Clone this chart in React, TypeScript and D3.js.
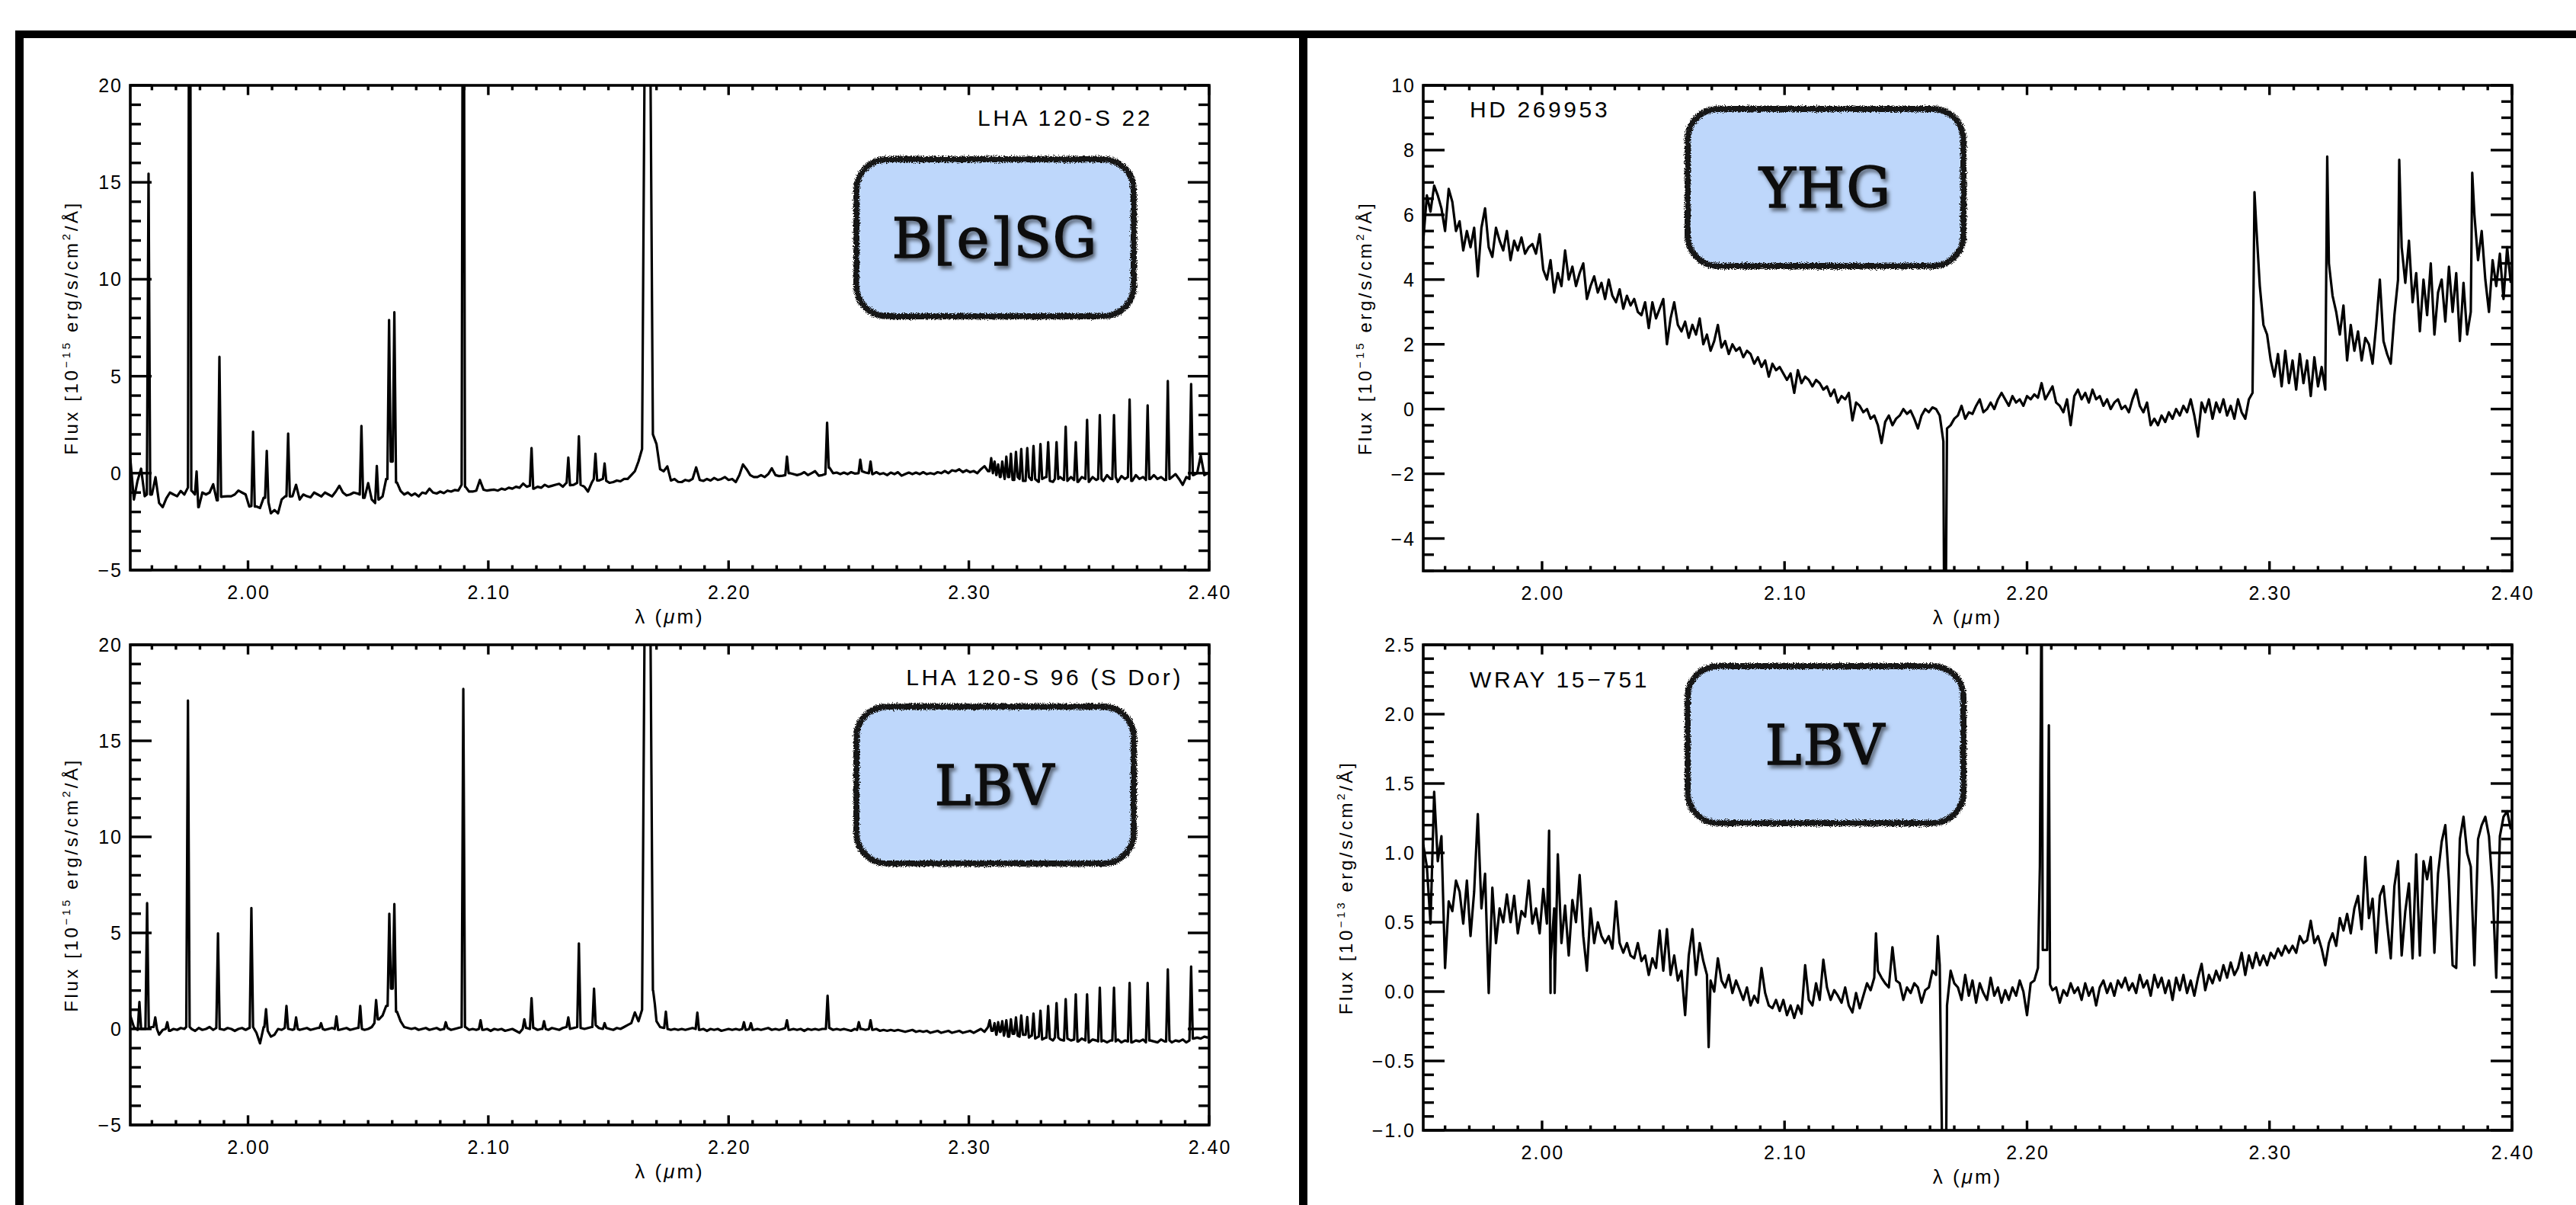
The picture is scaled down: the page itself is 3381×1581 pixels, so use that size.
import React from 'react'
import * as d3 from 'd3'

const FONT = "'Liberation Sans', Arial, Helvetica, sans-serif"
const SERIF = "'DejaVu Serif', 'Liberation Serif', serif"

// wavelength grid of the sampled spectra (micron)
const gridStart = 1.951
const gridStep = 0.0015

// LHA 120-S 22 : flux samples on the grid
const s22Flux = [
  0.76, -1.36, -0.4, 0.23, -1.19, -1.1, -1.1, -0.21, -1.54, -1.75,
  -1.3, -1.0, -1.1, -1.19, -0.92, -1.1, -0.74, -0.9, -1.1, -1.75,
  -1.0, -1.1, -1.0, -0.57, -1.4, -1.22, -1.2, -1.19, -1.19, -1.1,
  -0.9, -1.0, -1.1, -1.72, -1.7, -1.72, -1.8, -1.27, -1.5, -2.07,
  -1.9, -2.07, -1.36, -1.19, -1.2, -1.19, -0.6, -1.36, -1.1, -1.19,
  -1.25, -1.0, -1.1, -1.2, -1.0, -1.1, -1.2, -0.95, -0.65, -1.0,
  -1.15, -1.1, -1.0, -1.05, -1.1, -1.27, -0.51, -1.36, -1.54, -1.36,
  -1.2, -0.3, 0.6, 0.6, -0.48, -0.92, -1.1, -1.0, -1.15, -1.05,
  -1.2, -1.0, -1.05, -0.8, -1.0, -1.05, -0.95, -1.03, -0.9, -0.95,
  -0.87, -0.9, -0.6, -0.7, -0.95, -0.95, -0.9, -0.35, -0.85, -0.9,
  -0.87, -0.85, -0.9, -0.8, -0.85, -0.75, -0.8, -0.7, -0.75, -0.54,
  -0.7, -0.65, -0.8, -0.7, -0.75, -0.6, -0.7, -0.65, -0.6, -0.55,
  -0.7, -0.5, -0.62, -0.6, -0.5, -0.6, -0.7, -0.95, -0.5, -0.3,
  -0.38, -0.3, -0.4, -0.5, -0.46, -0.38, -0.42, -0.3, -0.3, -0.1,
  0.1, 0.6, 1.25, 30, 30, 2.0, 1.5, 0.2, 0.1, 0.35,
  -0.38, -0.3, -0.45, -0.46, -0.35, -0.4, -0.3, 0.3, -0.35, -0.4,
  -0.3, -0.38, -0.25, -0.35, -0.3, -0.2, -0.35, -0.3, -0.46, -0.1,
  0.45, 0.2, -0.1, -0.2, -0.2, -0.1, -0.2, -0.05, 0.25, -0.1,
  -0.15, -0.13, -0.1, 0.0, -0.05, -0.1, -0.05, 0.05, -0.1, 0.0,
  0.1, -0.13, -0.1, -0.05, 0.28, 0.0, 0.03, -0.05, 0.03, -0.05,
  0.05, -0.02, 0.0, 0.1, 0.03, 0.0, -0.05, 0.05, -0.05, 0.0,
  -0.1, 0.03, -0.05, 0.05, -0.13, -0.05, 0.03, -0.05, 0.03, -0.05,
  0.05, -0.05, 0.0, -0.05, 0.05, 0.0, 0.11, 0.0, 0.15, 0.1,
  0.2, 0.05, 0.15, 0.05, 0.11, 0.0, 0.2, 0.36, 0.1, 0.0,
  -0.1, -0.2, -0.1, -0.3, -0.2, -0.35, -0.2, -0.3, -0.4, -0.2,
  -0.35, -0.3, -0.45, -0.3, -0.2, -0.4, -0.45, -0.3, -0.2, -0.35,
  -0.4, -0.2, -0.35, -0.45, -0.2, -0.3, -0.45, -0.2, -0.35, -0.3,
  -0.4, -0.1, -0.3, -0.2, -0.45, -0.15, -0.3, -0.2, -0.4, -0.1,
  -0.3, -0.2, -0.35, -0.3, -0.1, -0.3, -0.2, -0.35, -0.3, -0.2,
  -0.05, -0.3, -0.6, -0.2, -0.3, -0.1, 0.0, 0.9, -0.1, 0.0,
]
// emission lines [wavelength, peak]
const s22Lines = [
  [1.9586, 15.45], [1.9757, 40], [1.9786, 0.09], [1.9881, 6.0], [2.0021, 2.14],
  [2.0078, 1.15], [2.0167, 2.04], [2.0472, 2.44], [2.0536, 0.37], [2.0587, 7.9],
  [2.0609, 8.3], [2.0896, 40], [2.118, 1.3], [2.1333, 0.8], [2.1377, 1.9],
  [2.1446, 1.0], [2.1484, 0.5], [2.2243, 0.85], [2.241, 2.6], [2.2548, 0.7],
  [2.2591, 0.6],
  [2.3093, 0.77], [2.3107, 0.6], [2.3122, 0.45], [2.3139, 0.6], [2.3156, 0.85],
  [2.3175, 1.0], [2.3196, 1.1], [2.3218, 1.25], [2.3243, 1.3], [2.3269, 1.4],
  [2.3298, 1.5], [2.333, 1.6], [2.3365, 1.6], [2.3403, 2.4], [2.3445, 1.6],
  [2.3492, 2.75], [2.3545, 3.0], [2.3604, 3.0], [2.3669, 3.8], [2.3744, 3.5],
  [2.3828, 4.75], [2.3925, 4.6],
]

// LHA 120-S 96 (S Dor)
const sdorFlux = [
  0.7, 0.1, -0.05, 0.0, 0.0, 0.05, 0.1, 0.0, -0.3, -0.05,
  0.0, -0.1, 0.0, -0.05, 0.05, 0.0, 0.1, 0.0, -0.1, 0.05,
  -0.05, 0.0, 0.1, -0.05, 0.05, 0.0, -0.05, 0.05, 0.0, -0.1,
  0.0, 0.05, -0.05, 0.05, 0.1, -0.2, -0.75, 0.1, -0.1, -0.4,
  -0.3, 0.0, -0.05, 0.05, 0.0, -0.05, 0.0, -0.05, 0.0, 0.05,
  -0.05, 0.0, 0.05, 0.0, -0.05, 0.0, 0.05, 0.0, -0.05, 0.0,
  0.05, -0.05, 0.0, 0.05, 0.0, -0.05, 0.0, 0.1, 0.3, 0.5,
  0.7, 1.2, 2.1, 2.1, 0.9, 0.4, 0.1, 0.05, 0.0, 0.05,
  -0.05, 0.0, 0.05, -0.05, 0.0, 0.05, -0.05, 0.0, 0.05, -0.05,
  0.0, 0.05, 0.1, 0.1, -0.05, 0.0, -0.05, 0.0, -0.05, 0.0,
  -0.1, 0.0, -0.05, 0.0, -0.1, -0.05, 0.0, -0.1, -0.2, 0.0,
  0.05, 0.0, 0.05, -0.05, 0.0, 0.0, -0.05, 0.05, 0.0, -0.05,
  0.05, 0.1, 0.0, 0.05, 0.1, 0.05, 0.0, 0.05, 0.1, 0.2,
  0.05, 0.0, 0.05, 0.0, -0.05, 0.05, 0.0, 0.1, 0.2, 0.3,
  0.86, 0.4, 1.0, 30, 30, 2.0, 0.4, 0.1, 0.05, 0.0,
  -0.05, 0.0, -0.05, 0.0, -0.05, 0.0, 0.05, 0.0, -0.05, 0.0,
  -0.1, 0.0, -0.05, 0.0, -0.1, -0.05, 0.0, -0.05, 0.0, -0.05,
  0.0, -0.05, 0.0, -0.05, 0.0, -0.05, 0.0, 0.05, -0.05, 0.0,
  -0.05, 0.0, 0.05, -0.05, 0.0, -0.05, 0.0, -0.1, 0.0, -0.05,
  0.0, -0.05, 0.0, 0.0, 0.05, -0.05, 0.0, -0.05, 0.0, -0.05,
  -0.1, 0.0, -0.05, 0.0, -0.05, 0.0, -0.05, 0.0, -0.1, -0.05,
  -0.1, -0.05, -0.1, -0.05, -0.1, -0.15, -0.1, -0.05, -0.15, -0.1,
  -0.15, -0.1, -0.2, -0.15, -0.1, -0.2, -0.15, -0.1, -0.2, -0.15,
  -0.1, -0.2, -0.15, -0.1, -0.2, -0.1, 0.0, -0.15, 0.1, -0.1,
  -0.3, -0.15, -0.35, -0.2, -0.4, -0.25, -0.35, -0.4, -0.3, -0.45,
  -0.35, -0.5, -0.4, -0.55, -0.45, -0.5, -0.6, -0.45, -0.55, -0.6,
  -0.5, -0.6, -0.55, -0.65, -0.5, -0.6, -0.7, -0.55, -0.6, -0.65,
  -0.6, -0.7, -0.6, -0.65, -0.55, -0.7, -0.6, -0.65, -0.7, -0.6,
  -0.65, -0.55, -0.7, -0.6, -0.65, -0.7, -0.55, -0.65, -0.6, -0.7,
  -0.6, -0.65, -0.55, -0.7, -0.6, -0.5, -0.45, -0.5, -0.4, -0.45,
]
const sdorLines = [
  [1.9548, 1.4], [1.958, 6.55], [1.9614, 0.6], [1.9664, 0.35], [1.975, 17.1],
  [1.9875, 4.98], [2.0014, 6.3], [2.0075, 1.03], [2.016, 1.2], [2.02, 0.6],
  [2.0304, 0.3], [2.0368, 0.65], [2.0467, 1.2], [2.0533, 1.5], [2.0588, 6.0],
  [2.0609, 6.5], [2.0823, 0.35], [2.0896, 17.7], [2.0968, 0.45], [2.115, 0.5],
  [2.118, 1.6], [2.1232, 0.4], [2.1333, 0.6], [2.1377, 4.45], [2.144, 2.1],
  [2.1484, 0.3], [2.1693, 1.3], [2.1739, 0.9], [2.187, 0.85], [2.2064, 0.35],
  [2.2093, 0.3], [2.2243, 0.45], [2.2412, 1.73], [2.2542, 0.35], [2.2591, 0.45],
  [2.3087, 0.45], [2.3107, 0.3], [2.3122, 0.35], [2.3139, 0.4], [2.3156, 0.45],
  [2.3175, 0.5], [2.3196, 0.6], [2.3218, 0.7], [2.3243, 0.62], [2.3269, 0.8],
  [2.3298, 0.95], [2.333, 1.2], [2.3365, 1.35], [2.3403, 1.55], [2.3445, 1.8],
  [2.3492, 1.8], [2.3545, 2.15], [2.3604, 2.15], [2.3669, 2.4], [2.3744, 2.4],
  [2.3828, 3.1], [2.3925, 3.25],
]

// HD 269953
const hdFlux = [
  5.2, 6.6, 6.1, 6.9, 6.6, 6.2, 5.5, 6.8, 6.4, 5.5,
  5.8, 4.9, 5.5, 5.0, 5.6, 4.1, 5.6, 6.2, 5.0, 4.7,
  5.6, 5.2, 4.9, 5.5, 4.6, 5.2, 4.9, 5.3, 4.8, 5.0,
  5.1, 4.8, 5.4, 4.3, 4.0, 4.6, 3.6, 4.2, 3.8, 4.9,
  4.0, 4.4, 3.8, 4.2, 4.5, 3.4, 3.8, 4.1, 3.6, 3.9,
  3.4, 4.0, 3.5, 3.3, 3.7, 3.1, 3.5, 3.2, 3.4, 3.0,
  2.9, 3.3, 2.5, 3.3, 2.8, 3.1, 3.4, 2.0, 2.8, 3.3,
  2.6, 2.4, 2.7, 2.2, 2.6, 2.3, 2.8, 2.0, 2.3, 1.8,
  2.1, 2.6, 1.9, 2.1, 1.7, 2.0, 1.8, 1.9, 1.6, 1.8,
  1.7, 1.4, 1.6, 1.3, 1.5, 1.0, 1.4, 1.2, 1.3, 1.1,
  0.9, 1.1, 0.5, 1.2, 0.8, 1.0, 0.9, 0.7, 0.9, 0.8,
  0.6, 0.7, 0.4, 0.6, 0.2, 0.4, 0.3, 0.5, -0.35, 0.2,
  0.1, -0.1, 0.0, -0.3, -0.2, -0.5, -1.05, -0.4, -0.2, -0.5,
  -0.3, -0.2, 0.0, -0.15, -0.05, -0.3, -0.6, -0.2, 0.0, -0.1,
  0.05, 0.0, -0.2, -1.0, -0.6, -0.5, -0.3, -0.2, 0.1, -0.3,
  -0.1, -0.15, 0.1, 0.3, -0.1, 0.0, 0.2, 0.0, 0.3, 0.5,
  0.3, 0.1, 0.4, 0.2, 0.3, 0.1, 0.4, 0.3, 0.45, 0.35,
  0.8, 0.3, 0.5, 0.7, 0.2, 0.1, -0.1, 0.3, -0.5, 0.4,
  0.6, 0.3, 0.5, 0.2, 0.6, 0.3, 0.4, 0.1, 0.3, 0.0,
  0.2, 0.3, 0.0, 0.1, -0.1, 0.3, 0.6, 0.1, -0.1, 0.2,
  -0.5, -0.3, -0.5, -0.2, -0.4, -0.1, -0.3, 0.0, -0.2, 0.1,
  -0.1, 0.3, -0.2, -0.85, 0.2, -0.1, 0.3, -0.3, 0.2, -0.1,
  0.3, -0.2, 0.1, -0.3, 0.3, -0.1, -0.3, 0.3, 0.5, 5.7,
  3.8, 2.6, 2.3, 1.5, 1.0, 1.7, 0.7, 1.8, 0.8, 1.5,
  0.6, 1.7, 0.8, 1.5, 0.4, 1.6, 0.7, 1.3, 0.6, 4.5,
  3.5, 3.0, 2.3, 3.2, 1.5, 2.6, 1.8, 2.4, 1.5, 2.2,
  2.0, 1.4, 2.6, 4.0, 2.1, 1.7, 1.4, 2.9, 4.0, 5.0,
  3.9, 5.2, 3.3, 4.2, 2.4, 4.0, 2.9, 4.5, 2.3, 3.6,
  4.0, 2.7, 4.4, 3.0, 4.2, 2.1, 3.9, 2.3, 3.0, 6.0,
  4.6, 5.5, 4.0, 3.0, 4.6, 3.8, 4.8, 3.4, 5.0, 3.9,
]
const hdLines = [
  [2.1658, -6], [2.1665, -6], [2.2938, 6.7], [2.3238, 7.8], [2.3535, 7.7], [2.3836, 7.3],
]

// WRAY 15-751 (units of 1e-13)
const wrayFlux = [
  1.06, 0.9, 0.49, 1.44, 0.94, 1.12, 0.17, 0.65, 0.58, 0.8,
  0.72, 0.49, 0.8, 0.4, 0.72, 1.28, 0.6, 0.85, -0.01, 0.75,
  0.35, 0.6, 0.5, 0.7, 0.5, 0.69, 0.42, 0.58, 0.54, 0.8,
  0.49, 0.6, 0.42, 0.74, 0.49, 0.22, 0.6, 0.99, 0.35, 0.62,
  0.26, 0.66, 0.5, 0.84, 0.4, 0.15, 0.6, 0.35, 0.5, 0.4,
  0.35, 0.4, 0.31, 0.65, 0.35, 0.28, 0.35, 0.26, 0.24, 0.35,
  0.22, 0.26, 0.12, 0.24, 0.17, 0.44, 0.15, 0.45, 0.12, 0.26,
  0.08, 0.15, -0.17, 0.26, 0.45, 0.12, 0.35, 0.22, 0.12, 0.08,
  0.0, 0.24, 0.08, 0.03, 0.12, -0.01, 0.08, 0.01, -0.06, 0.03,
  -0.1, -0.03, -0.08, 0.17, -0.01, -0.1, -0.12, -0.06, -0.14, -0.06,
  -0.17, -0.1, -0.19, -0.1, -0.16, 0.19, -0.06, -0.1, 0.06, -0.06,
  0.23, 0.03, -0.06, 0.01, -0.03, -0.08, 0.03, -0.1, -0.15, -0.01,
  -0.12, -0.03, 0.06, 0.01, 0.1, 0.15, 0.1, 0.06, 0.03, 0.32,
  0.08, 0.06, -0.06, 0.03, -0.01, 0.06, 0.03, -0.08, 0.01, 0.03,
  0.15, 0.12, 0.19, -1.3, -0.1, 0.15, 0.06, 0.03, -0.06, 0.12,
  -0.03, 0.08, -0.08, 0.06, -0.01, -0.06, 0.1, -0.03, 0.03, -0.08,
  0.01, -0.06, 0.03, -0.03, 0.08, 0.0, -0.17, 0.06, 0.08, 0.17,
  3.0, 0.3, 1.92, 0.01, 0.03, -0.08, 0.01, -0.03, 0.06, -0.01,
  0.03, -0.06, 0.06, -0.03, 0.03, -0.1, 0.03, 0.08, -0.01, 0.06,
  -0.03, 0.08, 0.03, 0.1, 0.01, 0.06, -0.01, 0.12, 0.03, 0.08,
  -0.03, 0.12, 0.03, 0.1, -0.01, 0.08, -0.06, 0.1, 0.01, 0.12,
  -0.01, 0.08, -0.03, 0.1, 0.2, 0.01, 0.12, 0.06, 0.15, 0.08,
  0.19, 0.1, 0.21, 0.12, 0.17, 0.28, 0.12, 0.26, 0.17, 0.28,
  0.19, 0.26, 0.19, 0.28, 0.24, 0.31, 0.26, 0.33, 0.28, 0.33,
  0.28, 0.4, 0.35, 0.37, 0.51, 0.35, 0.4, 0.31, 0.19, 0.35,
  0.42, 0.33, 0.53, 0.44, 0.56, 0.42, 0.6, 0.69, 0.45, 0.97,
  0.53, 0.67, 0.28, 0.69, 0.76, 0.49, 0.24, 0.76, 0.94, 0.26,
  0.58, 0.78, 0.24, 0.99, 0.26, 0.94, 0.81, 0.97, 0.28, 0.85,
  1.08, 1.2, 0.8, 0.19, 0.17, 1.1, 1.26, 1.0, 0.9, 0.19,
  1.1, 1.2, 1.26, 1.12, 0.74, 0.1, 1.12, 1.26, 1.3, 1.17,
]
const wrayLines = [
  [2.0029, 1.16], [2.0035, -0.01], [2.0052, -0.01], [2.0687, -0.4], [2.1377, 0.42],
  [2.1632, 0.4], [2.1651, -1.3], [2.1666, -1.3], [2.2053, 0.9], [2.2065, 0.3],
  [2.2083, 0.3], [2.2095, 0.05],
]

const xMajor = [2.0, 2.1, 2.2, 2.3, 2.4]
const xMajorLabels = ['2.00', '2.10', '2.20', '2.30', '2.40']
const xMinor = d3.range(196, 241).map(v => v / 100)

const bigYMajor = [-5, 0, 5, 10, 15, 20]
const bigYLabels = ['\u22125', '0', '5', '10', '15', '20']
const bigYMinor = d3.range(-5, 21)
const hdYMajor = [-4, -2, 0, 2, 4, 6, 8, 10]
const hdYLabels = ['\u22124', '\u22122', '0', '2', '4', '6', '8', '10']
const hdYMinor = d3.range(-10, 21).map(v => v / 2)
const wrayYMajor = [-1, -0.5, 0, 0.5, 1, 1.5, 2, 2.5]
const wrayYLabels = ['\u22121.0', '\u22120.5', '0.0', '0.5', '1.0', '1.5', '2.0', '2.5']
const wrayYMinor = d3.range(-10, 26).map(v => v / 10)

function buildSpectrum(flux: number[], lines: number[][], hw: number) {
  const grid = flux.map((f, i) => [gridStart + i * gridStep, f])
  const nearest = (w: number) => flux[Math.max(0, Math.min(flux.length - 1, Math.round((w - gridStart) / gridStep)))]
  const pts = hw > 0 ? grid.filter(([w]) => !lines.some(([c]) => Math.abs(w - c) < hw)) : grid.slice()
  lines.forEach(([c, p]) => {
    if (hw > 0) pts.push([c - hw, nearest(c - hw)], [c, p], [c + hw, nearest(c + hw)])
    else pts.push([c, p])
  })
  return pts.sort((a, b) => a[0] - b[0])
}

const panels = [
  {
    id: 'tl', left: 171, top: 112, width: 1416, height: 636, yDomain: [-5, 20],
    yMajor: bigYMajor, yLabels: bigYLabels, yMinor: bigYMinor, flux: s22Flux, lines: s22Lines, hw: 0.0007,
    name: 'LHA 120-S 22', nameX: 1513, nameY: 165, nameAnchor: 'end', exp: '15', titleOff: 69,
    tag: 'B[e]SG', box: [1124, 209, 364, 206],
  },
  {
    id: 'bl', left: 171, top: 846, width: 1416, height: 630, yDomain: [-5, 20],
    yMajor: bigYMajor, yLabels: bigYLabels, yMinor: bigYMinor, flux: sdorFlux, lines: sdorLines, hw: 0.0007,
    name: 'LHA 120-S 96 (S Dor)', nameX: 1553, nameY: 899, nameAnchor: 'end', exp: '15', titleOff: 69,
    tag: 'LBV', box: [1124, 927, 364, 206],
  },
  {
    id: 'tr', left: 1868, top: 112, width: 1429, height: 637, yDomain: [-5, 10],
    yMajor: hdYMajor, yLabels: hdYLabels, yMinor: hdYMinor, flux: hdFlux, lines: hdLines, hw: 0,
    name: 'HD 269953', nameX: 1929, nameY: 154, nameAnchor: 'start', exp: '15', titleOff: 68,
    tag: 'YHG', box: [2215, 143, 362, 206],
  },
  {
    id: 'br', left: 1868, top: 846, width: 1429, height: 637, yDomain: [-1, 2.5],
    yMajor: wrayYMajor, yLabels: wrayYLabels, yMinor: wrayYMinor, flux: wrayFlux, lines: wrayLines, hw: 0,
    name: 'WRAY 15\u2212751', nameX: 1929, nameY: 902, nameAnchor: 'start', exp: '13', titleOff: 93,
    tag: 'LBV', box: [2215, 874, 362, 206],
  },
]

function Panel({ p }: { p: any }) {
  const { left, top, width, height } = p
  const bottom = top + height
  const right = left + width
  const x = d3.scaleLinear().domain([1.951, 2.4]).range([left, right])
  const y = d3.scaleLinear().domain(p.yDomain).range([bottom, top])
  const pts = buildSpectrum(p.flux, p.lines, p.hw)
  const path = d3.line<number[]>().x(d => x(d[0])).y(d => y(d[1]))(pts) || ''
  const xMaj = 12.7, xMin = 6.4, yMaj = 28, yMin = 14
  const isMajorY = (v: number) => p.yMajor.some((m: number) => Math.abs(m - v) < 1e-6)
  const [bx, by, bw, bh] = p.box
  return (
    <g>
      <clipPath id={`clip-${p.id}`}>
        <rect x={left} y={top} width={width} height={height} />
      </clipPath>
      <path d={path} fill="none" stroke="#000" strokeWidth={3.2} strokeLinejoin="round" clipPath={`url(#clip-${p.id})`} />
      <g stroke="#000" strokeWidth={3.4}>
        {xMinor.map(v => (
          <g key={`xm${v}`}>
            <line x1={x(v)} x2={x(v)} y1={bottom} y2={bottom - (xMajor.includes(v) ? xMaj : xMin)} />
            <line x1={x(v)} x2={x(v)} y1={top} y2={top + (xMajor.includes(v) ? xMaj : xMin)} />
          </g>
        ))}
        {p.yMinor.map((v: number) => (
          <g key={`ym${v}`}>
            <line x1={left} x2={left + (isMajorY(v) ? yMaj : yMin)} y1={y(v)} y2={y(v)} />
            <line x1={right} x2={right - (isMajorY(v) ? yMaj : yMin)} y1={y(v)} y2={y(v)} />
          </g>
        ))}
        <rect x={left} y={top} width={width} height={height} fill="none" strokeWidth={3.6} />
      </g>
      <g fontFamily={FONT} fontSize={25} fill="#000" letterSpacing={2}>
        {xMajor.map((v, i) => (
          <text key={`xl${v}`} x={x(v) + 1} y={bottom + 38} textAnchor="middle">{xMajorLabels[i]}</text>
        ))}
        {p.yMajor.map((v: number, i: number) => (
          <text key={`yl${v}`} x={left - 10} y={y(v)} dy="0.36em" textAnchor="end">{p.yLabels[i]}</text>
        ))}
      </g>
      <text x={(left + right) / 2} y={bottom + 70} textAnchor="middle" fontFamily={FONT} fontSize={26} letterSpacing={3}>
        λ (<tspan fontStyle="italic">μ</tspan>m)
      </text>
      <text transform={`translate(${left - p.titleOff},${top + height / 2}) rotate(-90)`} textAnchor="middle"
        fontFamily={FONT} fontSize={24} letterSpacing={3.6}>
        Flux [10<tspan dy={-10} fontSize={15}>{'\u2212' + p.exp}</tspan><tspan dy={10}> erg/s/cm</tspan><tspan dy={-10} fontSize={15}>2</tspan><tspan dy={10}>/Å]</tspan>
      </text>
      <text x={p.nameX} y={p.nameY} textAnchor={p.nameAnchor} fontFamily={FONT} fontSize={30} letterSpacing={3.6}>{p.name}</text>
      <rect x={bx} y={by} width={bw} height={bh} rx={40} ry={40} fill="#bed7fb" />
      <rect x={bx} y={by} width={bw} height={bh} rx={40} ry={40} fill="none" stroke="#151515" strokeWidth={8} filter="url(#rough)" />
      <text x={bx + bw / 2} y={by + bh / 2 + 26} textAnchor="middle" fontFamily={SERIF} fontSize={72} letterSpacing={2}
        fill="#111" stroke="#111" strokeWidth={1.6} filter="url(#tshadow)">{p.tag}</text>
    </g>
  )
}

export default function App() {
  return (
    <svg width={3381} height={1581} style={{ position: 'absolute', left: 0, top: 0, display: 'block' }}>
      <defs>
        <filter id="rough" x="-5%" y="-5%" width="110%" height="110%">
          <feTurbulence type="fractalNoise" baseFrequency="1.1" numOctaves={2} seed={3} result="n" />
          <feDisplacementMap in="SourceGraphic" in2="n" scale={7} xChannelSelector="R" yChannelSelector="G" />
        </filter>
        <filter id="tshadow" x="-20%" y="-30%" width="140%" height="160%">
          <feDropShadow dx={3} dy={4} stdDeviation={2.5} floodColor="#000" floodOpacity={0.55} />
        </filter>
      </defs>
      <rect width={3381} height={1581} fill="#fff" />
      <rect x={20} y={40} width={3361} height={10} fill="#000" />
      <rect x={20} y={40} width={11} height={1541} fill="#000" />
      <rect x={1705} y={40} width={11} height={1541} fill="#000" />
      {panels.map(p => <Panel key={p.id} p={p} />)}
    </svg>
  )
}
